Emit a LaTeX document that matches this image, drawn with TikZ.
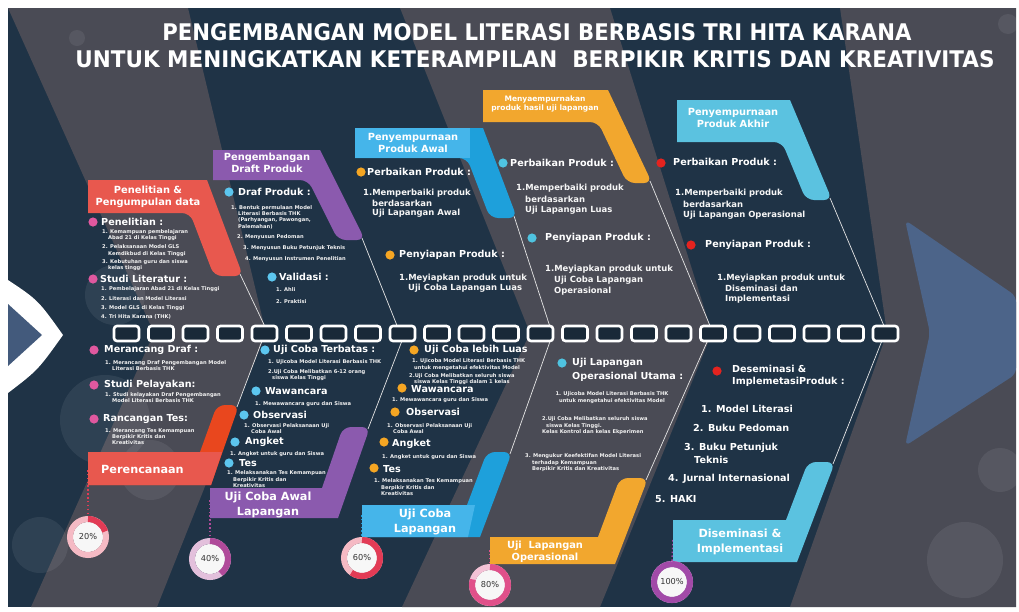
\documentclass[tikz,border=0pt]{standalone}
\usepackage{fontspec}
\setmainfont{DejaVu Sans}
\usepackage{graphicx}
\newlength\px
\setlength\px{0.03cm}
\newcounter{tn}
\newcommand\tx[4]{\stepcounter{tn}\node[#1] (t\arabic{tn}) at (#2,#3) {#4};}
\newcommand\bdot[3]{\fill[#1] (#2,#3) circle (4.6\px);}
\definecolor{navy}{HTML}{1F3346}
\definecolor{bggray}{HTML}{4A4B55}
\definecolor{cRed}{HTML}{E8584E}
\definecolor{cRedT}{HTML}{E9471E}
\definecolor{cPur}{HTML}{8B5AAE}
\definecolor{cBlue}{HTML}{1EA0DB}
\definecolor{cBlueL}{HTML}{45B5EA}
\definecolor{cOra}{HTML}{F2A72E}
\definecolor{cCya}{HTML}{5BC2E0}
\definecolor{dPink}{HTML}{E0589F}
\definecolor{dBlue}{HTML}{5CC6EF}
\definecolor{dOra}{HTML}{F5A623}
\definecolor{dCya}{HTML}{4FC3E0}
\definecolor{dRed}{HTML}{E4231F}
\definecolor{rRed}{HTML}{E23B55}
\definecolor{rPur}{HTML}{B04A9A}
\definecolor{rPink}{HTML}{E0508A}
\definecolor{rMag}{HTML}{A24AA8}
\definecolor{headblue}{HTML}{4C6489}
\newcommand\ring[6]{%
  \fill[white!94!gray] (#1,#2) circle (15\px);
  \draw[#3!35, line width=6\px] (#1,#2) circle (18\px);
  \draw[#3, line width=6\px] ([shift={(90:18\px)}]#1,#2) arc[start angle=90, end angle={90-3.6*#4}, radius=18\px];
  \node[ringtxt] (#5) at (#1,#2) {#6};}
\begin{document}
\begin{tikzpicture}[x=0.03cm,y=-0.03cm,
  txt/.style={inner sep=0pt, anchor=west, text=white},
  hd/.style={txt, font=\fontsize{8.2}{9}\selectfont\bfseries},
  md/.style={txt, font=\fontsize{7.2}{8}\selectfont\bfseries, text=white!93!gray},
  sm/.style={txt, font=\fontsize{4.4}{5}\selectfont\bfseries, text=white!90!gray},
  smc/.style={sm, anchor=center},
  lst/.style={txt, font=\fontsize{8.2}{9}\selectfont\bfseries},
  lbl/.style={inner sep=0pt, text=white, align=center, font=\fontsize{8.4}{10}\selectfont\bfseries},
  lblsm/.style={lbl, font=\fontsize{6.4}{8}\selectfont\bfseries},
  lblbig/.style={lbl, font=\fontsize{9.6}{12.5}\selectfont\bfseries},
  ringtxt/.style={inner sep=0pt, text=black!80, font=\fontsize{7}{8}\selectfont},
  bone/.style={draw=white!80!gray, line width=0.6pt},
  dots/.style={dotted, line width=1.3pt},
  bokeh/.style={fill=white, opacity=0.07},
  chainlink/.style={draw=white, line width=2.6\px, fill=navy!80!black, rounded corners=3\px}]

\useasboundingbox (0,0) rectangle (1019,611);
\fill[white] (0,0) rectangle (1019,611);
% background
\fill[navy] (8,8) rectangle (1016,607);
\fill[bggray] (8,8) -- (188,8) -- (266,333) -- (157,607) -- (31,607) -- (154,333) -- cycle;
\fill[bggray] (400,8) -- (610,8) -- (712,333) -- (600,607) -- (402,607) -- (530,333) -- cycle;
\fill[bggray] (840,8) -- (1016,8) -- (1016,607) -- (790,607) -- (887,333) -- cycle;
% bokeh
\fill[bokeh] (115,295) circle (30\px);
\fill[bokeh] (105,420) circle (45\px);
\fill[bokeh] (150,470) circle (30\px);
\fill[bokeh] (77,38) circle (8\px);
\fill[bokeh] (1008,24) circle (10\px);
\fill[bokeh] (965,560) circle (38\px);
\fill[bokeh] (1000,470) circle (22\px);
\fill[bokeh] (40,545) circle (28\px);
% fish tail and head
\fill[white] (8,280) .. controls (38,300) .. (63,335) .. controls (38,370) .. (8,393) -- cycle;
\fill[headblue!80!navy] (8,304) -- (42,335) -- (8,366) -- cycle;
\fill[headblue, rounded corners=6\px] (905,220) -- (1016,296) -- (1016,374) -- (905,446) -- (930,333) -- cycle;

% title
\node[inner sep=0pt, anchor=base, text=white] (title1) at (537,40) {\resizebox{749\px}{17\px}{\bfseries PENGEMBANGAN MODEL LITERASI BERBASIS TRI HITA KARANA}};
\node[inner sep=0pt, anchor=base, text=white] (title2) at (535,67) {\resizebox{919\px}{17\px}{\bfseries UNTUK MENINGKATKAN KETERAMPILAN\ \ BERPIKIR KRITIS DAN KREATIVITAS}};

% bone coordinates
\coordinate (u1a) at (240,274); \coordinate (u1b) at (268,333);
\coordinate (u2a) at (362,238); \coordinate (u2b) at (400,333);
\coordinate (u3a) at (514,216); \coordinate (u3b) at (552,333);
\coordinate (u4a) at (650,181); \coordinate (u4b) at (713,333);
\coordinate (u5a) at (830,198); \coordinate (u5b) at (887,333);
\coordinate (l1a) at (237,407); \coordinate (l1b) at (265,333);
\coordinate (l2a) at (368,429); \coordinate (l2b) at (405,333);
\coordinate (l3a) at (510,454); \coordinate (l3b) at (553,333);
\coordinate (l4a) at (646,480); \coordinate (l4b) at (711,333);
\coordinate (l5a) at (833,464); \coordinate (l5b) at (885,333);
\foreach \a/\b in {u1a/u1b,u2a/u2b,u3a/u3b,u4a/u4b,u5a/u5b,l1a/l1b,l2a/l2b,l3a/l3b,l4a/l4b,l5a/l5b}
  \draw[bone] (\a) -- (\b);

% dotted drops to rings
\coordinate (d1) at (88,470); \coordinate (d2) at (210,500);
\coordinate (d3) at (362,515); \coordinate (d4) at (490,550);
\coordinate (d5) at (673,540);
\coordinate (e1) at (88,516); \coordinate (e2) at (210,539);
\coordinate (e3) at (362,537); \coordinate (e4) at (490,564);
\coordinate (e5) at (672,561);
\draw[dots, rRed] (d1) -- (e1);
\draw[dots, rPur] (d2) -- (e2);
\draw[dots, cBlue] (d3) -- (e3);
\draw[dots, rPink] (d4) -- (e4);
\draw[dots, rMag] (d5) -- (e5);

% upper label shapes
\fill[cRed] (88,180) -- (207,180) [rounded corners=8\px] -- (243,276) -- (214,276) -- (190,213) [sharp corners] -- (88,213) -- cycle;
\fill[cPur] (213,150) -- (320,150) [rounded corners=8\px] -- (365,240) -- (338,240) -- (308,180) [sharp corners] -- (213,180) -- cycle;
\fill[cBlue] (355,128) -- (483,128) [rounded corners=8\px] -- (517,218) -- (490,218) -- (467,158) [sharp corners] -- (355,158) -- cycle;
\fill[cBlueL] (355,128) -- (470,128) -- (470,158) -- (355,158) -- cycle;
\fill[cOra] (483,90) -- (608,90) [rounded corners=8\px] -- (652,183) -- (627,183) -- (598,122) [sharp corners] -- (483,122) -- cycle;
\fill[cCya] (677,100) -- (790,100) [rounded corners=8\px] -- (832,200) -- (806,200) -- (782,142) [sharp corners] -- (677,142) -- cycle;

% lower label shapes
\fill[cRedT] (88,452) -- (200,452) [rounded corners=8\px] -- (217,405) -- (239,405) [sharp corners] -- (211,485) -- (88,485) -- cycle;
\fill[cRed] (88,452) -- (222,452) -- (211,485) -- (88,485) -- cycle;
\fill[cPur] (210,488) -- (322,488) [rounded corners=8\px] -- (343,427) -- (370,427) [sharp corners] -- (338,518) -- (210,518) -- cycle;
\fill[cBlue] (362,505) -- (467,505) [rounded corners=8\px] -- (487,452) -- (512,452) [sharp corners] -- (480,537) -- (362,537) -- cycle;
\fill[cBlueL] (362,505) -- (475,505) -- (468,537) -- (362,537) -- cycle;
\fill[cOra] (490,537) -- (598,537) [rounded corners=8\px] -- (620,478) -- (648,478) [sharp corners] -- (615,564) -- (490,564) -- cycle;
\fill[cCya] (673,520) -- (786,520) [rounded corners=8\px] -- (808,462) -- (835,462) [sharp corners] -- (797,562) -- (673,562) -- cycle;

% spine chain
\foreach \i in {0,...,22} \draw[chainlink] ({114+34.5*\i},326) rectangle ++(25,15);

% box labels
\node[lbl] (b1) at (148,197) {Penelitian \&\\Pengumpulan data};
\node[lbl] (b2) at (267,163) {Pengembangan\\Draft Produk};
\node[lbl] (b3) at (413,143) {Penyempurnaan\\Produk Awal};
\node[lblsm] (b4) at (545,104) {Menyaempurnakan\\produk hasil uji lapangan};
\node[lbl] (b5) at (733,118) {Penyempurnaan\\Produk Akhir};
\node[lblbig, anchor=west] (b6) at (101,469) {Perencanaan};
\node[lblbig] (b7) at (268,505) {Uji Coba Awal\\Lapangan};
\node[lblbig] (b8) at (425,522) {Uji Coba\\Lapangan};
\node[lbl] (b9) at (545,552) {Uji\ \ Lapangan\\Operasional};
\node[lblbig] (b10) at (740,542) {Diseminasi \&\\Implementasi};

% upper column 1
\bdot{dPink}{93}{222} \tx{hd}{101}{222}{Penelitian :}
\tx{sm}{102}{232}{1. Kemampuan pembelajaran}
\tx{sm}{108}{238}{Abad 21 di Kelas Tinggi}
\tx{sm}{102}{247}{2. Pelaksanaan Model GLS}
\tx{sm}{108}{254}{Kemdikbud di Kelas Tinggi}
\tx{sm}{102}{262}{3. Kebutuhan guru dan siswa}
\tx{sm}{108}{268}{kelas tinggi}
\bdot{dPink}{93}{279} \tx{hd}{100}{279}{Studi Literatur :}
\tx{sm}{101}{289}{1. Pembelajaran Abad 21 di Kelas Tinggi}
\tx{sm}{101}{299}{2. Literasi dan Model Literasi}
\tx{sm}{101}{308}{3. Model GLS di Kelas Tinggi}
\tx{sm}{101}{317}{4. Tri Hita Karana (THK)}

% upper column 2
\bdot{dBlue}{229}{192} \tx{hd}{238}{192}{Draf Produk :}
\tx{sm}{231}{208}{1. Bentuk permulaan Model}
\tx{sm}{238}{214}{Literasi Berbasis THK}
\tx{sm}{238}{220}{(Parhyangan, Pawongan,}
\tx{sm}{238}{227}{Palemahan)}
\tx{sm}{237}{237}{2. Menyusun Pedoman}
\tx{sm}{243}{248}{3. Menyusun Buku Petunjuk Teknis}
\tx{sm}{245}{259}{4. Menyusun Instrumen Penelitian}
\bdot{dBlue}{272}{277} \tx{hd}{279}{277}{Validasi :}
\tx{sm}{276}{290}{1. Ahli}
\tx{sm}{276}{302}{2. Praktisi}

% upper column 3
\bdot{dOra}{361}{172} \tx{hd}{367}{172}{Perbaikan Produk :}
\tx{md}{363}{193}{1.Memperbaiki produk}
\tx{md}{372}{203}{berdasarkan}
\tx{md}{372}{213}{Uji Lapangan Awal}
\bdot{dOra}{390}{255} \tx{hd}{399}{255}{Penyiapan Produk :}
\tx{md}{399}{278}{1.Meyiapkan produk untuk}
\tx{md}{408}{288}{Uji Coba Lapangan Luas}

% upper column 4
\bdot{dCya}{503}{163} \tx{hd}{510}{163}{Perbaikan Produk :}
\tx{md}{516}{188}{1.Memperbaiki produk}
\tx{md}{525}{199}{berdasarkan}
\tx{md}{525}{210}{Uji Lapangan Luas}
\bdot{dCya}{532}{238} \tx{hd}{545}{238}{Penyiapan Produk :}
\tx{md}{545}{269}{1.Meyiapkan produk untuk}
\tx{md}{554}{280}{Uji Coba Lapangan}
\tx{md}{554}{291}{Operasional}

% upper column 5
\bdot{dRed}{661}{163} \tx{hd}{673}{162}{Perbaikan Produk :}
\tx{md}{675}{193}{1.Memperbaiki produk}
\tx{md}{683}{204}{berdasarkan}
\tx{md}{683}{215}{Uji Lapangan Operasional}
\bdot{dRed}{691}{245} \tx{hd}{705}{245}{Penyiapan Produk :}
\tx{md}{717}{278}{1.Meyiapkan produk untuk}
\tx{md}{725}{288}{Diseminasi dan}
\tx{md}{725}{299}{Implementasi}

% lower column 1
\bdot{dPink}{94}{350} \tx{hd}{104}{350}{Merancang Draf :}
\tx{sm}{105}{363}{1. Merancang Draf Pengembangan Model}
\tx{sm}{112}{369}{Literasi Berbasis THK}
\bdot{dPink}{94}{385} \tx{hd}{104}{385}{Studi Pelayakan:}
\tx{sm}{105}{395}{1. Studi kelayakan Draf Pengembangan}
\tx{sm}{112}{401}{Model Literasi Berbasis THK}
\bdot{dPink}{94}{419} \tx{hd}{103}{419}{Rancangan Tes:}
\tx{sm}{105}{431}{1. Merancang Tes Kemampuan}
\tx{sm}{112}{437}{Berpikir Kritis dan}
\tx{sm}{112}{443}{Kreativitas}

% lower column 2
\bdot{dBlue}{265}{350} \tx{hd}{273}{350}{Uji Coba Terbatas :}
\tx{sm}{268}{362}{1. Ujicoba Model Literasi Berbasis THK}
\tx{sm}{268}{372}{2.Uji Coba Melibatkan 6-12 orang}
\tx{sm}{272}{378}{siswa Kelas Tinggi}
\bdot{dBlue}{256}{391} \tx{hd}{265}{391}{Wawancara}
\tx{sm}{255}{404}{1. Mewawancara guru dan Siswa}
\bdot{dBlue}{244}{415} \tx{hd}{253}{415}{Observasi}
\tx{sm}{244}{426}{1. Observasi Pelaksanaan Uji}
\tx{sm}{251}{432}{Coba Awal}
\bdot{dBlue}{235}{442} \tx{hd}{245}{442}{Angket}
\tx{sm}{230}{454}{1. Angket untuk guru dan Siswa}
\bdot{dBlue}{229}{463} \tx{hd}{239}{463}{Tes}
\tx{sm}{227}{473}{1. Melaksanakan Tes Kemampuan}
\tx{sm}{233}{480}{Berpikir Kritis dan}
\tx{sm}{233}{486}{Kreativitas}

% lower column 3
\bdot{dOra}{414}{350} \tx{hd}{424}{350}{Uji Coba lebih Luas}
\tx{sm}{412}{361}{1. Ujicoba Model Literasi Berbasis THK}
\tx{sm}{414}{368}{untuk mengetahui efektivitas Model}
\tx{sm}{409}{376}{2.Uji Coba Melibatkan seluruh siswa}
\tx{sm}{414}{382}{siswa Kelas Tinggi dalam 1 kelas}
\bdot{dOra}{402}{388} \tx{hd}{411}{389}{Wawancara}
\tx{sm}{392}{400}{1. Mewawancara guru dan Siswa}
\bdot{dOra}{395}{412} \tx{hd}{406}{412}{Observasi}
\tx{sm}{387}{426}{1. Observasi Pelaksanaan Uji}
\tx{sm}{393}{432}{Coba Awal}
\bdot{dOra}{384}{442} \tx{hd}{392}{444}{Angket}
\tx{sm}{382}{457}{1. Angket untuk guru dan Siswa}
\bdot{dOra}{374}{468} \tx{hd}{383}{469}{Tes}
\tx{sm}{374}{481}{1. Melaksanakan Tes Kemampuan}
\tx{sm}{381}{488}{Berpikir Kritis dan}
\tx{sm}{381}{494}{Kreativitas}

% lower column 4
\bdot{dCya}{562}{363} \tx{hd}{572}{363}{Uji Lapangan}
\tx{hd}{572}{377}{Operasional Utama :}
\tx{smc}{612}{394}{1. Ujicoba Model Literasi Berbasis THK}
\tx{smc}{612}{401}{untuk mengetahui efektivitas Model}
\tx{sm}{542}{419}{2.Uji Coba Melibatkan seluruh siswa}
\tx{sm}{546}{426}{siswa Kelas Tinggi.}
\tx{sm}{542}{432}{Kelas Kontrol dan kelas Ekperimen}
\tx{sm}{525}{456}{3. Mengukur Keefektifan Model Literasi}
\tx{sm}{532}{463}{terhadap Kemampuan}
\tx{sm}{532}{469}{Berpikir Kritis dan Kreativitas}

% lower column 5
\bdot{dRed}{717}{371} \tx{hd}{732}{369}{Deseminasi \&}
\tx{hd}{732}{382}{ImplemetasiProduk :}
\tx{lst}{701}{409}{1. Model Literasi}
\tx{lst}{693}{428}{2. Buku Pedoman}
\tx{lst}{684}{448}{3. Buku Petunjuk}
\tx{lst}{694}{460}{Teknis}
\tx{lst}{668}{479}{4. Jurnal Internasional}
\tx{lst}{655}{499}{5. HAKI}

% progress rings
\ring{88}{537}{rRed}{20}{p20}{20\%}
\ring{210}{559}{rPur}{40}{p40}{40\%}
\ring{362}{558}{rRed}{60}{p60}{60\%}
\ring{490}{585}{rPink}{80}{p80}{80\%}
\ring{672}{582}{rMag}{100}{p100}{100\%}
\end{tikzpicture}
\end{document}
